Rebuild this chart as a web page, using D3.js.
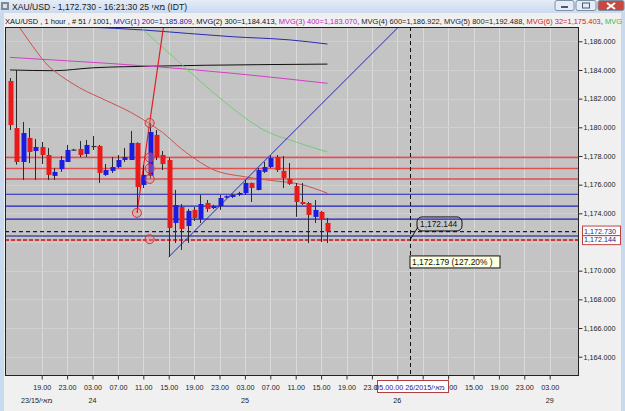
<!DOCTYPE html>
<html>
<head>
<meta charset="utf-8">
<script src="https://cdnjs.cloudflare.com/ajax/libs/d3/7.8.5/d3.min.js"></script>
<style>
body { margin:0; background:#f0f0f0; }
svg { display:block; font-family:"Liberation Sans", Arial, sans-serif; }
</style>
</head>
<body>
<svg width="625" height="411"></svg>
<script>
// hourly bars, index 0 = 23rd 14:00
var barOpen  = [1183.23,1179.95,1177.58,1179.26,1178.35,1178.63,1178.07,1176.61,1177.09,1177.58,
                1178.45,1178.49,1178.14,1178.70,1178.70,1176.68,1176.96,1177.23,1177.72,1177.72,
                1178.91,1175.98,1176.61,1179.47,1178.07,1177.72,1173.33,1174.44,1173.12,1174.24,
                1173.61,1174.72,1174.37,1174.51,1175.10,1175.14,1175.28,1175.42,1176.12,1175.63,
                1176.89,1177.23,1177.93,1176.96,1176.40,1175.91,1174.79,1174.72,1173.75,1174.10,1173.33];
var barHigh  = [1183.44,1184.00,1180.37,1179.95,1179.19,1178.98,1178.56,1177.16,1178.00,1178.77,
                1178.50,1179.05,1179.12,1179.40,1178.77,1177.44,1177.93,1178.07,1178.56,1179.74,
                1178.95,1177.37,1180.30,1179.81,1178.35,1177.86,1175.63,1174.65,1174.31,1174.44,
                1175.28,1174.93,1174.60,1175.28,1175.25,1175.35,1175.50,1176.33,1176.15,1177.16,
                1177.58,1178.07,1178.07,1178.00,1177.51,1176.12,1176.12,1174.79,1174.93,1174.17,1173.68];
var barLow   = [1179.81,1177.40,1176.33,1177.51,1176.33,1177.44,1176.33,1176.33,1176.89,1177.58,
                1178.40,1177.93,1177.93,1178.42,1176.12,1176.61,1176.82,1177.16,1177.58,1177.72,
                1174.03,1175.77,1176.40,1177.72,1177.02,1170.96,1171.93,1171.45,1171.93,1173.47,
                1173.33,1174.10,1174.30,1174.24,1175.05,1175.07,1175.20,1175.28,1174.79,1175.60,
                1176.82,1177.16,1176.89,1175.77,1175.98,1173.75,1174.58,1171.93,1173.33,1172.00,1171.93];
var barClose = [1180.16,1177.58,1179.60,1178.28,1178.63,1178.07,1176.68,1176.89,1177.72,1178.42,
                1178.45,1178.07,1178.77,1178.70,1176.82,1177.02,1177.23,1177.72,1177.93,1178.91,
                1175.84,1176.68,1179.67,1177.93,1177.44,1172.98,1174.58,1172.91,1174.17,1173.68,
                1174.65,1174.31,1174.51,1175.07,1175.20,1175.28,1175.42,1176.12,1175.77,1177.02,
                1177.23,1177.86,1177.02,1176.47,1176.05,1174.79,1174.65,1173.89,1174.24,1173.54,1172.73];

// moving averages [bar index, price]
var mvg1 = [[12,1187.00],[21,1186.79],[28,1186.55],[35,1186.32],[44,1186.10],[50,1185.81]];
var mvg2 = [[0,1184.00],[7,1183.95],[13,1184.15],[23,1184.27],[39,1184.37],[50,1184.41]];
var mvg3 = [[0,1184.88],[6,1184.72],[23,1184.23],[35,1183.77],[50,1183.07]];
var mvg6 = [[1,1187.30],[2,1186.65],[4,1185.40],[6,1184.30],[8,1183.60],[11,1182.75],[15,1181.90],
            [19,1181.05],[22,1180.25],[24,1179.65],[27,1178.50],[30,1177.55],[32,1177.05],
            [37,1176.55],[41,1176.30],[46,1176.00],[50,1175.40]];
var mvg7 = [[20,1187.20],[27,1184.40],[34,1181.70],[40,1179.81],[45,1178.98],[50,1178.28]];

// drawn objects
var redLevels  = [1177.90, 1177.13, 1176.40];
var blueLevels = [1175.33, 1174.50, 1173.59];
var bidPrice = 1172.730;
var navyLevel = 1172.42;
var fiboLevel = 1172.144;
var redTrend  = [[20,1174.03],[22,1180.30],[24.5,1188.0]];
var blueTrend = [[25,1170.96],[41,1178.06],[63,1187.80]];
var fiboMarks = [[22,1180.30],[22,1177.90],[22,1177.13],[22,1176.40],[20,1174.03],[22,1172.20]];
var cursorIdx = 63;

// axis labels (1,172.000 sits under the price boxes)
var priceTicks = [1164,1166,1168,1170,1174,1176,1178,1180,1182,1184,1186];
var timeTickIdx = d3.range(5, 86, 4);
var timeLabels = ["19.00","23.00","03.00","07.00","11.00","15.00","19.00","23.00","03.00","07.00","11.00",
                  "15.00","19.00","23.00","","","11.00","15.00","19.00","23.00","03.00"];
var dateIdx = [5, 13, 37, 61, 85];
var dateLabels = ["23/15/מאי", "24", "25", "26", "29"];

var titleText = "XAU/USD - 1,172.730 - 16:21:30 25 מאי (IDT)";
var headerParts = ["XAU/USD , 1 hour , # 51 / 1001, ", "MVG(1) 200=1,185.809", ", ", "MVG(2) 300=1,184.413", ", ",
                   "MVG(3) 400=1,183.070", ", MVG(4) 600=1,186.922, MVG(5) 800=1,192.488, ",
                   "MVG(6) 32=1,175.403", ", ", "MVG"];
var headerColors = ["#111", "#1a1aa8", "#111", "#111", "#111", "#c020c0", "#222", "#d02020", "#111", "#3cb83c"];

var svg = d3.select('svg');
var plot = {left:5, right:579, top:27, bottom:376};

var x = d3.scaleLinear().domain([5, 85]).range([41.7, 549.7]);
var y = d3.scaleLinear().domain([1164, 1186]).range([356.7, 41.3]);

// window chrome
var grad = svg.append('defs').append('linearGradient').attr('id','tb').attr('x1',0).attr('y1',0).attr('x2',0).attr('y2',1);
grad.append('stop').attr('offset','0%').attr('stop-color','#e4edf8');
grad.append('stop').attr('offset','100%').attr('stop-color','#cbdaee');
svg.append('rect').attr('x',0).attr('y',0).attr('width',625).attr('height',13).attr('fill','url(#tb)');
svg.append('rect').attr('x',0).attr('y',13).attr('width',4).attr('height',398).attr('fill','#c9d9ee');
svg.append('rect').attr('x',621).attr('y',13).attr('width',4).attr('height',398).attr('fill','#c9d9ee');
svg.append('rect').attr('x',1).attr('y',2).attr('width',8).attr('height',8).attr('fill','#7d8a99');
svg.append('rect').attr('x',3).attr('y',4).attr('width',4).attr('height',4).attr('fill','#d8e0ea');
svg.append('text').attr('x',12).attr('y',9.5).attr('font-size','8.6px').attr('fill','#1a1a1a').text(titleText);

var btn = [[555,19,'#e3ecf7'],[576,20,'#e3ecf7'],[598,26,'#c8473f']];
btn.forEach(function(b){
  svg.append('rect').attr('x',b[0]).attr('y',0.5).attr('width',b[1]).attr('height',10).attr('rx',2)
     .attr('fill',b[2]).attr('stroke','#7f8ea3');
});
svg.append('rect').attr('x',561).attr('y',6).attr('width',7).attr('height',2).attr('fill','#4a5a70');
svg.append('rect').attr('x',582.5).attr('y',3).attr('width',7).attr('height',5).attr('fill','none').attr('stroke','#4a5a70');
svg.append('path').attr('d','M607,3 L615,9 M615,3 L607,9').attr('stroke','#fff').attr('stroke-width',2);

// header line
var hdr = svg.append('text').attr('x',5).attr('y',23.5).attr('font-size','7.6px');
headerParts.forEach(function(p, i){
  hdr.append('tspan').attr('fill', headerColors[i]).text(p);
});
hdr.attr('textLength', 617).attr('lengthAdjust','spacingAndGlyphs');

// plot background + grid
svg.append('rect').attr('x',plot.left).attr('y',plot.top).attr('width',plot.right-plot.left).attr('height',plot.bottom-plot.top)
   .attr('fill','#c4c4c4');
svg.append('clipPath').attr('id','clip').append('rect')
   .attr('x',plot.left).attr('y',plot.top).attr('width',plot.right-plot.left).attr('height',plot.bottom-plot.top);
var g = svg.append('g').attr('clip-path','url(#clip)');

g.selectAll('.vg').data(timeTickIdx).enter().append('line')
 .attr('x1',function(d){return Math.round(x(d))+0.5;}).attr('x2',function(d){return Math.round(x(d))+0.5;})
 .attr('y1',plot.top).attr('y2',plot.bottom).attr('stroke','#dadada');
g.selectAll('.hg').data(priceTicks.concat([1172])).enter().append('line')
 .attr('y1',function(d){return Math.round(y(d))+0.5;}).attr('y2',function(d){return Math.round(y(d))+0.5;})
 .attr('x1',plot.left).attr('x2',plot.right).attr('stroke','#d0d0d0');

// moving averages
var line = d3.line().x(function(d){return x(d[0]);}).y(function(d){return y(d[1]);}).curve(d3.curveMonotoneX);
[[mvg1,'#2a2ab0'],[mvg2,'#111'],[mvg3,'#d040c8'],[mvg7,'#74cc74'],[mvg6,'#d05050']].forEach(function(m){
  g.append('path').attr('d',line(m[0])).attr('fill','none').attr('stroke',m[1]).attr('stroke-width',1);
});

// horizontal levels
function hline(v, col, dash, w){
  g.append('line').attr('x1',plot.left).attr('x2',plot.right)
   .attr('y1',y(v)).attr('y2',y(v)).attr('stroke',col).attr('stroke-width',w||1)
   .attr('stroke-dasharray',dash||null);
}
redLevels.forEach(function(v){ hline(v,'#e05050',null,1.6); });
blueLevels.forEach(function(v){ hline(v,'#2020c0',null,1.2); });
hline(bidPrice,'#101080','4,3',1.2);
hline(navyLevel,'#101080',null,1.2);
hline(fiboLevel,'#eaa0a8',null,1.6);
hline(fiboLevel,'#c01818','4,2',1.6);

// trend lines
var straight = d3.line().x(function(d){return x(d[0]);}).y(function(d){return y(d[1]);});
g.append('path').attr('d',straight(redTrend)).attr('fill','none').attr('stroke','#e02020').attr('stroke-width',1.2);
g.append('path').attr('d',straight(blueTrend)).attr('fill','none').attr('stroke','#2323c8').attr('stroke-width',1);

// candles
var bars = d3.range(barOpen.length);
g.selectAll('.wick').data(bars).enter().append('line')
 .attr('x1',function(i){return Math.round(x(i))+0.5;}).attr('x2',function(i){return Math.round(x(i))+0.5;})
 .attr('y1',function(i){return y(barHigh[i]);}).attr('y2',function(i){return y(barLow[i]);})
 .attr('stroke','#2a2a2a');
g.selectAll('.body').data(bars).enter().append('rect')
 .attr('x',function(i){return Math.round(x(i))-1.5;})
 .attr('width',5)
 .attr('y',function(i){return y(Math.max(barOpen[i],barClose[i]));})
 .attr('height',function(i){return Math.max(1.2, Math.abs(y(barOpen[i])-y(barClose[i])));})
 .attr('fill',function(i){
   if (barOpen[i] === barClose[i]) return '#333';
   return barClose[i] < barOpen[i] ? '#e81a1a' : '#1c1ce0';
 });

// fibo markers
g.selectAll('.mark').data(fiboMarks).enter().append('circle')
 .attr('cx',function(d){return x(d[0]);}).attr('cy',function(d){return y(d[1]);}).attr('r',4.5)
 .attr('fill','rgba(240,140,140,0.35)').attr('stroke','#d83030').attr('stroke-width',1);

// cursor
g.append('line').attr('x1',Math.round(x(cursorIdx))+0.5).attr('x2',Math.round(x(cursorIdx))+0.5)
 .attr('y1',plot.top).attr('y2',plot.bottom).attr('stroke','#111').attr('stroke-dasharray','4,3');

// callout for the fibo level
var cx = x(cursorIdx);
g.append('path').attr('d','M'+cx+','+y(fiboLevel)+' L'+(cx+8)+','+(y(fiboLevel)-13))
 .attr('stroke','#111').attr('fill','none');
g.append('rect').attr('x',cx+7).attr('y',y(fiboLevel)-23).attr('width',45).attr('height',14).attr('rx',5)
 .attr('fill','none').attr('stroke','#111');
g.append('text').attr('x',cx+10).attr('y',y(fiboLevel)-13).attr('font-size','8.4px').attr('fill','#111')
 .text(d3.format(',.3f')(fiboLevel));
g.append('rect').attr('x',cx).attr('y',y(fiboLevel)+16).attr('width',90).attr('height',12)
 .attr('fill','#ffffe1').attr('stroke','#111');
g.append('text').attr('x',cx+2).attr('y',y(fiboLevel)+25.5).attr('font-size','8.4px').attr('fill','#111')
 .text('1,172.179 (127.20% )');

// plot frame
svg.append('rect').attr('x',plot.left+0.5).attr('y',plot.top+0.5).attr('width',plot.right-plot.left-1).attr('height',plot.bottom-plot.top-1)
   .attr('fill','none').attr('stroke','#222');

// axes
var yAxis = d3.axisRight(y).tickValues(priceTicks).tickFormat(d3.format(',.3f')).tickSize(4).tickPadding(1);
var ya = svg.append('g').attr('transform','translate('+(plot.right-0.5)+',0)').call(yAxis);
var xAxis = d3.axisBottom(x).tickValues(timeTickIdx).tickFormat(function(d,i){return timeLabels[i];}).tickSize(4).tickPadding(5);
var xa = svg.append('g').attr('transform','translate(0,'+(plot.bottom-0.5)+')').call(xAxis);
[ya, xa].forEach(function(a){
  a.select('.domain').remove();
  a.selectAll('line').attr('stroke','#333');
  a.selectAll('text').attr('font-size','7.2px').attr('fill','#222').attr('font-family','"Liberation Sans", Arial, sans-serif');
});
svg.selectAll('.dlab').data(dateIdx).enter().append('text')
   .attr('x',function(d,i){return x(d) - (i===0 ? 5 : 0);}).attr('y',403)
   .attr('text-anchor','middle').attr('font-size','7.2px').attr('fill','#222')
   .text(function(d,i){return dateLabels[i];});

// boxed axis values
function axisBox(v, top, h){
  var yy = y(v);
  svg.append('rect').attr('x',582.5).attr('y',yy-top).attr('width',38).attr('height',h)
     .attr('fill','#fff').attr('stroke','#c04040');
  svg.append('text').attr('x',584).attr('y',yy+2.5).attr('font-size','7.2px').attr('fill','#1a1a90')
     .text(d3.format(',.3f')(v));
}
axisBox(bidPrice, 5.5, 9.5);
axisBox(fiboLevel, 4.3, 9);
svg.append('rect').attr('x',377.5).attr('y',380.5).attr('width',71).attr('height',12)
   .attr('fill','#fff').attr('stroke','#b04040');
svg.append('text').attr('x',x(cursorIdx)).attr('y',389.5).attr('text-anchor','middle')
   .attr('font-size','7.2px').attr('fill','#1a1a90').text('05.00.00 26/2015/מאי');
</script>
</body>
</html>
